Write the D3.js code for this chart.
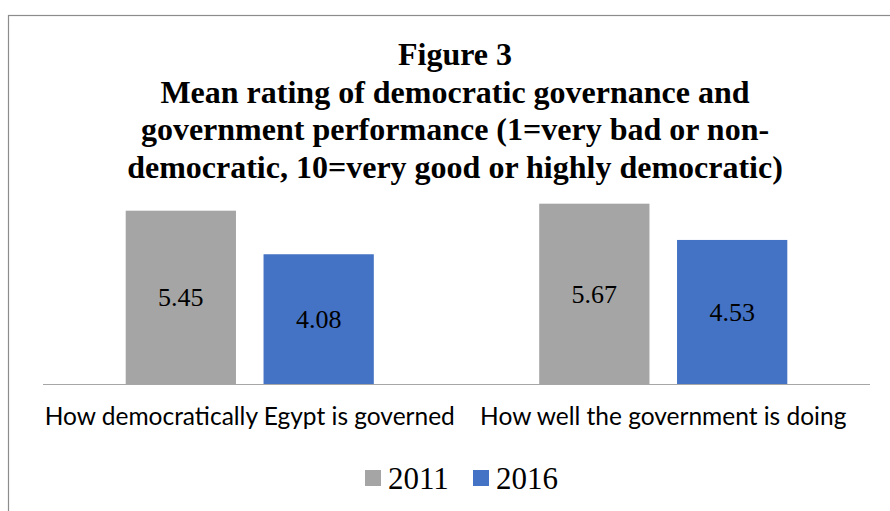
<!DOCTYPE html>
<html>
<head>
<meta charset="utf-8">
<script src="https://cdn.jsdelivr.net/npm/d3@7"></script>
<style>
  html, body { margin: 0; padding: 0; background: #fff; }
  svg { display: block; }
</style>
</head>
<body>
<svg id="chart" width="890" height="511"></svg>
<script>
// Survey questions (x categories)
const categories = ["How democratically Egypt is governed", "How well the government is doing"];
// Survey years (series)
const series = ["2011", "2016"];
// Mean ratings per year, in category order
const values2011 = [5.45, 5.67];
const values2016 = [4.08, 4.53];
const seriesColors = ["#a5a5a5", "#4472c4"];
const titleLines = [
  "Figure 3",
  "Mean rating of democratic governance and",
  "government performance (1=very bad or non-",
  "democratic, 10=very good or highly democratic)"
];

const valuesBySeries = { "2011": values2011, "2016": values2016 };
const rows = categories.map((c, i) => ({
  category: c,
  bars: series.map(s => ({ series: s, value: valuesBySeries[s][i] }))
}));

const svg = d3.select("#chart");

// outer frame
svg.append("rect")
  .attr("x", 8.5).attr("y", 15.5)
  .attr("width", 1000).attr("height", 1000)
  .attr("fill", "none").attr("stroke", "#8c8c8c").attr("stroke-width", 1.2);

// title
const title = svg.append("text")
  .attr("text-anchor", "middle")
  .attr("font-family", "'Liberation Serif', 'Times New Roman', serif")
  .attr("font-weight", "bold")
  .attr("font-size", 32)
  .attr("fill", "#000");
titleLines.forEach((t, i) => {
  title.append("tspan").attr("x", 455).attr("y", 65 + i * 37.5).text(t);
});

const plotLeft = 43, plotRight = 870, baseY = 384, topY = 193.2;

const x0 = d3.scaleBand().domain(categories).range([plotLeft, plotRight]).padding(0);
const x1 = d3.scaleBand().domain(series).range([0, x0.bandwidth()])
  .paddingInner(0.2).paddingOuter(0.6);
const y = d3.scaleLinear().domain([0, 6]).range([baseY, topY]);
const color = d3.scaleOrdinal().domain(series).range(seriesColors);

const groups = svg.append("g").selectAll("g")
  .data(rows).join("g")
  .attr("transform", d => `translate(${x0(d.category)},0)`);

groups.selectAll("rect")
  .data(d => d.bars).join("rect")
  .attr("x", d => x1(d.series))
  .attr("y", d => y(d.value))
  .attr("width", x1.bandwidth())
  .attr("height", d => y(0) - y(d.value))
  .attr("fill", d => color(d.series));

groups.selectAll("text.val")
  .data(d => d.bars).join("text")
  .attr("class", "val")
  .attr("x", d => x1(d.series) + x1.bandwidth() / 2)
  .attr("y", d => (y(d.value) + y(0)) / 2)
  .attr("dy", "0.35em")
  .attr("text-anchor", "middle")
  .attr("font-family", "'Liberation Serif', 'Times New Roman', serif")
  .attr("font-size", 26)
  .attr("fill", "#000")
  .text(d => d.value.toFixed(2));

// category axis
const xAxis = svg.append("g")
  .attr("transform", `translate(0,${baseY})`)
  .call(d3.axisBottom(x0).tickSize(0).tickPadding(0));
xAxis.select(".domain").remove();
xAxis.selectAll("text")
  .attr("y", 41).attr("dy", 0)
  .attr("font-family", "Lato, 'Open Sans', sans-serif")
  .attr("font-size", 24.5)
  .attr("fill", "#000");

// baseline
svg.append("line")
  .attr("x1", plotLeft).attr("x2", plotRight)
  .attr("y1", baseY + 0.5).attr("y2", baseY + 0.5)
  .attr("stroke", "#a6a6a6").attr("stroke-width", 1.2);

// legend
const legendX = [365, 473];
const legend = svg.append("g").selectAll("g")
  .data(series).join("g")
  .attr("transform", (d, i) => `translate(${legendX[i]},470)`);
legend.append("rect")
  .attr("width", 16).attr("height", 16)
  .attr("fill", d => color(d));
legend.append("text")
  .attr("x", 23).attr("y", 19)
  .attr("font-family", "'Liberation Serif', 'Times New Roman', serif")
  .attr("font-size", 31)
  .attr("fill", "#000")
  .text(d => d);
</script>
</body>
</html>
